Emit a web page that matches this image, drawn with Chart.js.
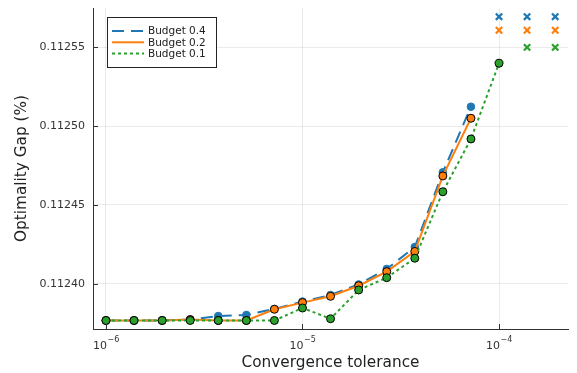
<!DOCTYPE html>
<html>
<head>
<meta charset="utf-8">
<script src="https://cdn.jsdelivr.net/npm/chart.js@4"></script>
<style>
  html, body { margin: 0; padding: 0; background: #fff; }
  #wrap { width: 577px; height: 373px; position: relative; }
</style>
</head>
<body>
<div id="wrap"><canvas id="c" width="577" height="373"></canvas></div>
<script>
// Convergence tolerances (x)
const tolerances = [1e-6, 1.389e-6, 1.931e-6, 2.683e-6, 3.728e-6, 5.179e-6, 7.197e-6,
                    1e-5, 1.389e-5, 1.931e-5, 2.683e-5, 3.728e-5, 5.179e-5, 7.197e-5, 1e-4];
// Tolerances of the off-scale points drawn as crosses at the top right
const offScaleTolerances = [1e-4, 1.389e-4, 1.931e-4];

const seriesLabels = ["Budget 0.4", "Budget 0.2", "Budget 0.1"];

// Optimality gap (%) per budget (null = off scale)
const budget04 = [0.1123769, 0.1123769, 0.1123769, 0.1123775, 0.1123797, 0.1123804, 0.1123842,
                  0.1123889, 0.1123930, 0.1123997, 0.1124095, 0.1124234, 0.1124707, 0.1125122, null];
const budget02 = [0.1123769, 0.1123769, 0.1123769, 0.1123775, 0.1123769, 0.1123769, 0.1123840,
                  0.1123882, 0.1123922, 0.1123989, 0.1124078, 0.1124206, 0.1124684, 0.1125049, null];
const budget01 = [0.1123769, 0.1123769, 0.1123769, 0.1123769, 0.1123769, 0.1123769, 0.1123769,
                  0.1123848, 0.1123780, 0.1123962, 0.1124040, 0.1124163, 0.1124584, 0.1124918, 0.1125397];

// Off-scale markers (values at which the crosses appear)
const offScale04 = [0.1125692, 0.1125692, 0.1125692];
const offScale02 = [0.1125606, 0.1125606, 0.1125606];
const offScale01 = [null, 0.1125498, 0.1125498];

const xTickValues = [1e-6, 1e-5, 1e-4];
const xTickBase = "10";
const xTickExponents = ["\u22126", "\u22125", "\u22124"];
const yTickValues = [0.11240, 0.11245, 0.11250, 0.11255];
const yTickLabels = ["0.11240", "0.11245", "0.11250", "0.11255"];

const colors = ["#1f77b4", "#ff7f0e", "#2ca02c"];
const FONT = "'DejaVu Sans', sans-serif";

function pts(xs, ys) {
  const out = [];
  for (let i = 0; i < xs.length; i++) if (ys[i] !== null) out.push({x: xs[i], y: ys[i]});
  return out;
}

const datasets = [
  { label: seriesLabels[0], data: pts(tolerances, budget04), borderColor: colors[0], backgroundColor: colors[0],
    borderWidth: 2, borderDash: [12, 7], pointRadius: 3.8, pointBorderColor: colors[0], pointBorderWidth: 1,
    pointBackgroundColor: colors[0], showLine: true, order: 2 },
  { label: seriesLabels[1], data: pts(tolerances, budget02), borderColor: colors[1], backgroundColor: colors[1],
    borderWidth: 2, pointRadius: 4, pointBorderColor: "#000", pointBorderWidth: 1,
    pointBackgroundColor: colors[1], showLine: true, order: 1 },
  { label: seriesLabels[2], data: pts(tolerances, budget01), borderColor: colors[2], backgroundColor: colors[2],
    borderWidth: 2, borderDash: [3, 3], pointRadius: 4, pointBorderColor: "#000", pointBorderWidth: 1,
    pointBackgroundColor: colors[2], showLine: true, order: 0 },
  { label: "off04", data: pts(offScaleTolerances, offScale04), showLine: false, pointStyle: "crossRot",
    pointRadius: 4.5, pointBorderWidth: 2.2, borderColor: colors[0], pointBorderColor: colors[0], order: 0, offscale: true },
  { label: "off02", data: pts(offScaleTolerances, offScale02), showLine: false, pointStyle: "crossRot",
    pointRadius: 4.5, pointBorderWidth: 2.2, borderColor: colors[1], pointBorderColor: colors[1], order: 0, offscale: true },
  { label: "off01", data: pts(offScaleTolerances, offScale01), showLine: false, pointStyle: "crossRot",
    pointRadius: 4.5, pointBorderWidth: 2.2, borderColor: colors[2], pointBorderColor: colors[2], order: 0, offscale: true },
];

const innerTicks = {
  id: "innerTicks",
  afterDatasetsDraw(chart) {
    const {ctx, chartArea: a, scales: {x, y}} = chart;
    ctx.save();
    ctx.strokeStyle = "#333";
    ctx.lineWidth = 1;
    ctx.beginPath();
    xTickValues.forEach(v => {
      const px = Math.round(x.getPixelForValue(v)) + 0.5;
      ctx.moveTo(px, a.bottom); ctx.lineTo(px, a.bottom - 5);
    });
    yTickValues.forEach(v => {
      const py = Math.round(y.getPixelForValue(v)) + 0.5;
      ctx.moveTo(a.left, py); ctx.lineTo(a.left + 5, py);
    });
    ctx.stroke();
    // power-of-ten tick labels with superscript exponents
    ctx.fillStyle = "#333";
    ctx.textBaseline = "alphabetic";
    xTickValues.forEach((v, i) => {
      const px = x.getPixelForValue(v);
      ctx.font = "11px " + FONT;
      const wb = ctx.measureText(xTickBase).width;
      ctx.font = "8px " + FONT;
      const we = ctx.measureText(xTickExponents[i]).width;
      const start = px - (wb + we) / 2;
      ctx.font = "11px " + FONT;
      ctx.textAlign = "left";
      ctx.fillText(xTickBase, start, a.bottom + 19.5);
      ctx.font = "8px " + FONT;
      ctx.fillText(xTickExponents[i], start + wb + 0.5, a.bottom + 13);
    });
    ctx.restore();
  }
};

const boxLegend = {
  id: "boxLegend",
  afterDraw(chart) {
    const {ctx, chartArea: a} = chart;
    const left = a.left + 14, top = a.top + 9, w = 109, h = 50;
    ctx.save();
    ctx.fillStyle = "#fff";
    ctx.fillRect(left, top, w, h);
    ctx.strokeStyle = "#222";
    ctx.lineWidth = 1;
    ctx.strokeRect(left + 0.5, top + 0.5, w, h);
    ctx.font = "10.5px " + FONT;
    ctx.textBaseline = "middle";
    const main = chart.data.datasets.filter(d => !d.offscale);
    main.forEach((d, i) => {
      const cy = top + 14 + i * 11.3;
      ctx.strokeStyle = d.borderColor;
      ctx.lineWidth = 2;
      ctx.setLineDash(d.borderDash || []);
      ctx.beginPath();
      ctx.moveTo(left + 5, cy); ctx.lineTo(left + 37, cy);
      ctx.stroke();
      ctx.setLineDash([]);
      ctx.fillStyle = "#222";
      ctx.fillText(d.label, left + 41, cy + 0.5);
    });
    ctx.restore();
  }
};

new Chart(document.getElementById("c"), {
  type: "scatter",
  data: { datasets },
  options: {
    responsive: false,
    animation: false,
    devicePixelRatio: 1,
    layout: { padding: { left: 0, right: 9, top: 8, bottom: 0 } },
    plugins: { legend: { display: false }, tooltip: { enabled: false } },
    elements: { line: { tension: 0 } },
    scales: {
      x: {
        type: "logarithmic",
        min: 8.59e-7,
        max: 2.244e-4,
        afterBuildTicks(s) { s.ticks = xTickValues.map(v => ({value: v})); },
        afterFit(s) { s.height = 44; s.paddingLeft = 0; s.paddingRight = 0; },
        ticks: {
          autoSkip: false, maxRotation: 0, padding: 6, color: "#333",
          font: { family: FONT, size: 11 },
          callback() { return ""; }
        },
        grid: { color: "rgba(0,0,0,0.08)", drawTicks: false },
        border: { display: true, color: "#333", width: 1 },
        title: { display: true, text: "Convergence tolerance", color: "#222",
                 font: { family: FONT, size: 15.3 }, padding: { top: 0, bottom: 1 } }
      },
      y: {
        type: "linear",
        min: 0.1123715,
        max: 0.1125747,
        afterBuildTicks(s) { s.ticks = yTickValues.map(v => ({value: v})); },
        afterFit(s) { s.width = 93; s.paddingTop = 0; s.paddingBottom = 0; },
        ticks: {
          padding: 8, color: "#333",
          font: { family: FONT, size: 11 },
          callback(v) { const i = yTickValues.findIndex(t => Math.abs(t - v) < 1e-9); return i >= 0 ? yTickLabels[i] : ""; }
        },
        grid: { color: "rgba(0,0,0,0.08)", drawTicks: false },
        border: { display: true, color: "#333", width: 1 },
        title: { display: true, text: "Optimality Gap (%)", color: "#222",
                 font: { family: FONT, size: 15.3 }, padding: { top: 13, bottom: 0 } }
      }
    }
  },
  plugins: [innerTicks, boxLegend]
});
</script>
</body>
</html>
